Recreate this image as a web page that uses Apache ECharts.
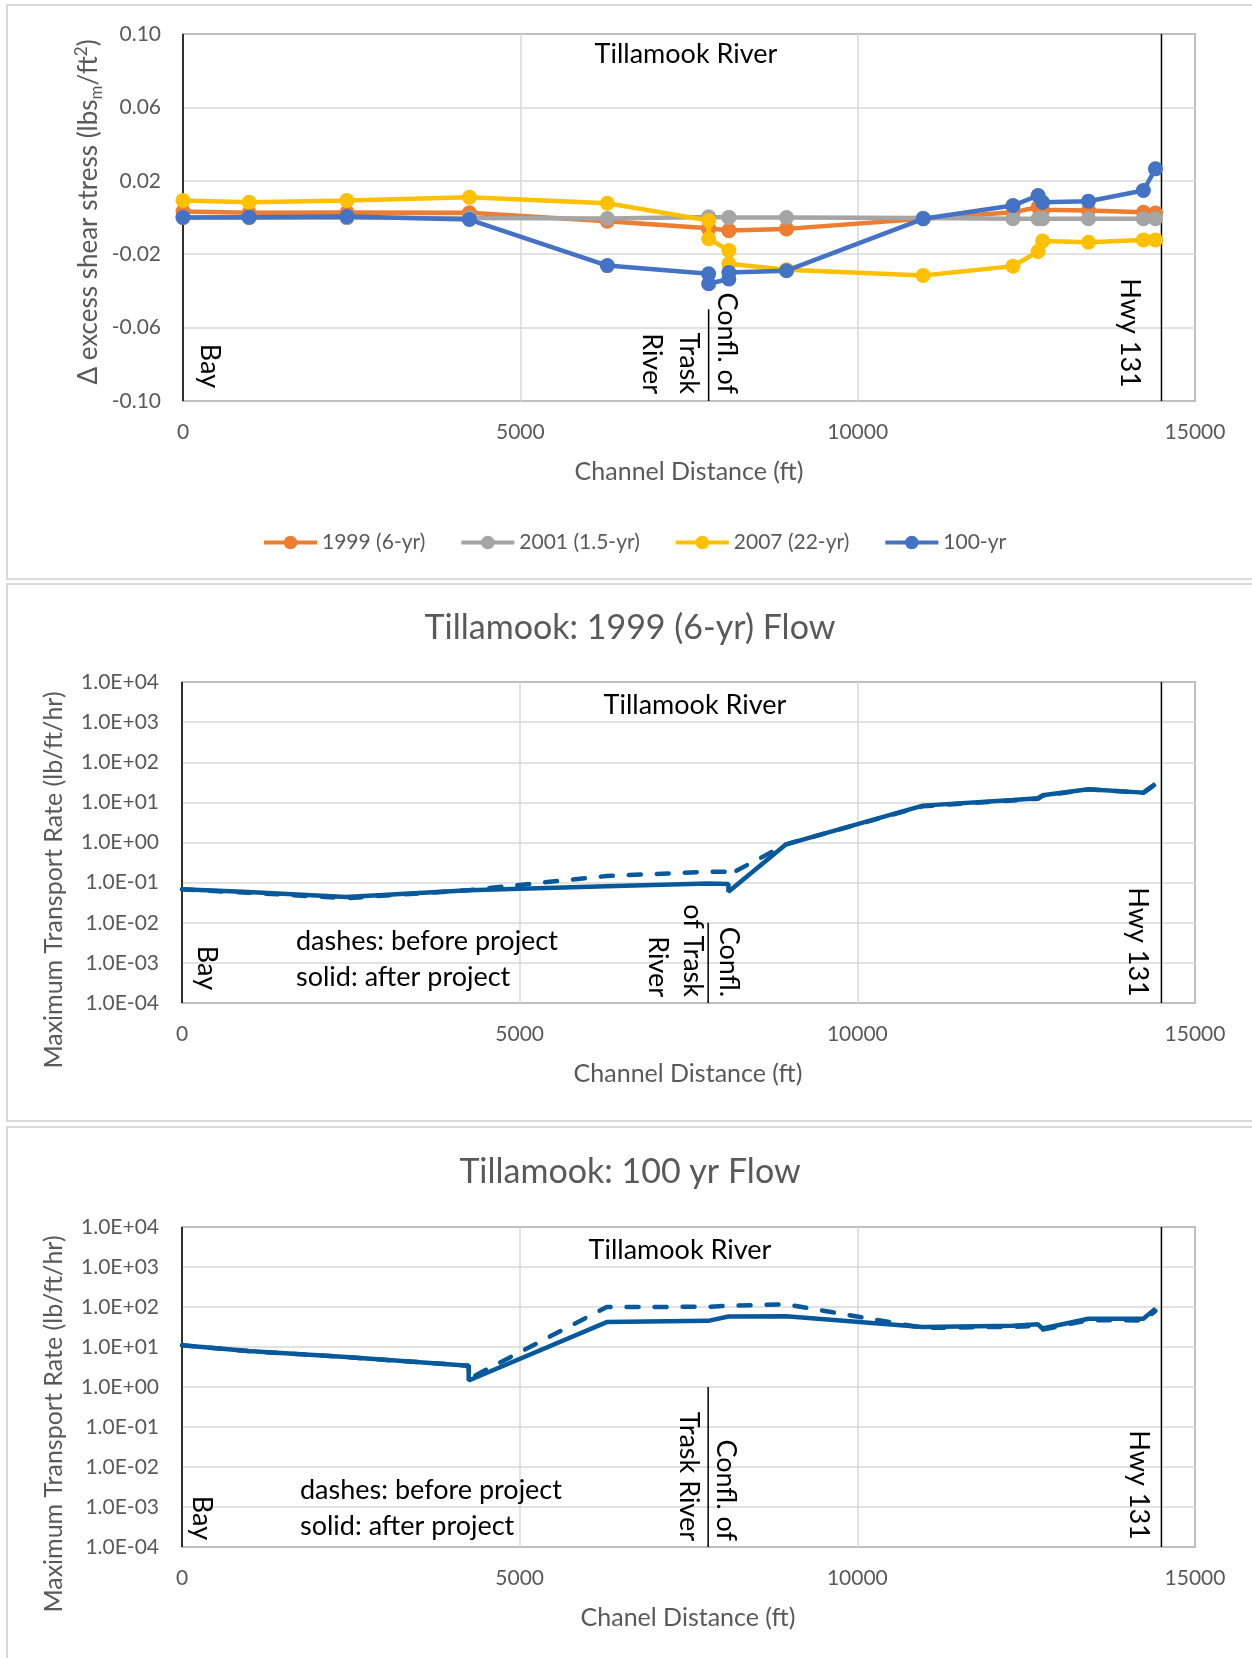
<!DOCTYPE html>
<html>
<head>
<meta charset="utf-8">
<script src="https://cdn.jsdelivr.net/npm/echarts@6/dist/echarts.min.js"></script>
<style>
html,body{margin:0;padding:0;background:#ffffff;}
#chart{width:1252px;height:1658px;}
</style>
</head>
<body>
<div id="chart"></div>
<script>
// ---------------- DATA ----------------
// Chart 1: change in excess shear stress (lbs_m/ft^2) along channel distance (ft)
const shearStations = [0, 980, 2430, 4245, 6289, 7791, 7791, 8091, 8091, 8945, 10971, 12302, 12674, 12741, 13421, 14235, 14414];
const shear1999 = [0.0033, 0.0026, 0.0027, 0.0026, -0.0020, -0.0058, -0.0062, -0.0071, -0.0071, -0.0062, -0.0007, 0.0029, 0.0056, 0.0042, 0.0038, 0.0029, 0.0024];
const shear2001 = [0.0000, -0.0001, -0.0002, -0.0003, -0.0005, 0.0003, 0.0003, 0.0000, 0.0000, 0.0000, -0.0003, -0.0007, -0.0007, -0.0007, -0.0007, -0.0007, -0.0007];
const shear2007 = [0.0093, 0.0083, 0.0092, 0.0110, 0.0078, -0.0016, -0.0116, -0.0180, -0.0252, -0.0285, -0.0316, -0.0265, -0.0185, -0.0128, -0.0135, -0.0122, -0.0122];
const shear100yr = [0.0000, 0.0002, 0.0005, -0.0011, -0.0262, -0.0307, -0.0361, -0.0335, -0.0300, -0.0290, -0.0007, 0.0065, 0.0120, 0.0083, 0.0089, 0.0147, 0.0265];
const shearSeriesNames = ['1999 (6-yr)', '2001 (1.5-yr)', '2007 (22-yr)', '100-yr'];

// Chart 2: Tillamook 1999 (6-yr) flow, maximum transport rate (lb/ft/hr)
const flow1999Stations = [0, 980, 2430, 4245, 6289, 7791, 8091, 8091, 8945, 10971, 12302, 12674, 12741, 13421, 14235, 14414];
const flow1999Before = [0.068, 0.056, 0.041, 0.065, 0.146, 0.187, 0.187, 0.155, 0.90, 8.0, 11.2, 12.3, 14.5, 21.0, 17.3, 28.0];
const flow1999After = [0.068, 0.058, 0.044, 0.065, 0.081, 0.095, 0.092, 0.059, 0.90, 8.3, 11.5, 12.7, 15.0, 21.3, 17.5, 28.8];

// Chart 3: Tillamook 100 yr flow, maximum transport rate (lb/ft/hr)
const flow100Stations = [0, 980, 2430, 4245, 4245, 6289, 7791, 8091, 8945, 10971, 12302, 12674, 12741, 13421, 14235, 14414];
const flow100Before = [11, 7.9, 5.6, 3.4, 1.6, 100, 101, 107, 117, 30, 32, 34, 27, 47, 46, 80];
const flow100After = [11, 7.9, 5.6, 3.4, 1.45, 42, 45, 58, 59, 31.6, 34, 37, 29, 51, 51, 91];

// Axis ticks
const distanceTicks = [0, 5000, 10000, 15000];
const shearTicks = [-0.10, -0.06, -0.02, 0.02, 0.06, 0.10];
const rateTicks = [1e-4, 1e-3, 1e-2, 1e-1, 1e0, 1e1, 1e2, 1e3, 1e4];

// Landmarks along the channel (ft) and the extent of the confluence marker on each chart
const bayX = 0;
const confluenceX = 7791;
const hwyX = 14503;
const confluenceTopShear = -0.05;
const confluenceTop1999 = 1e-2;
const confluenceTop100 = 1e0;

// ---------------- STYLE ----------------
const FONT = 'Lato';
const GRAY_TEXT = '#595959';
const GRID_LINE = '#D9D9D9';
const shearColors = ['#ED7D31', '#A5A5A5', '#FFC000', '#4472C4'];
const flowColor = '#07599B';

const chart = echarts.init(document.getElementById('chart'), null, {renderer: 'canvas'});

const dMin = distanceTicks[0], dMax = distanceTicks[distanceTicks.length - 1];
const dInt = distanceTicks[1] - distanceTicks[0];
const sMin = shearTicks[0], sMax = shearTicks[shearTicks.length - 1];
const sInt = Math.round((shearTicks[1] - shearTicks[0]) * 1e6) / 1e6;
const rMin = rateTicks[0], rMax = rateTicks[rateTicks.length - 1];

function xAxisOpt(gridIndex) {
  return {
    type: 'value', gridIndex, min: dMin, max: dMax, interval: dInt,
    axisLine: {show: false}, axisTick: {show: false},
    splitLine: {show: true, showMinLine: false, showMaxLine: false, lineStyle: {color: GRID_LINE, width: 1.5}},
    axisLabel: {fontFamily: FONT, fontSize: 21, color: GRAY_TEXT, margin: 21, formatter: v => String(Math.round(v))}
  };
}
function logFmt(v) {
  const e = Math.round(Math.log10(v));
  return '1.0E' + (e < 0 ? '-' : '+') + String(Math.abs(e)).padStart(2, '0');
}
function logYAxis(gridIndex) {
  return {
    type: 'log', logBase: 10, gridIndex, min: rMin, max: rMax, splitNumber: 8,
    axisLine: {show: false}, axisTick: {show: false}, minorTick: {show: false},
    splitLine: {show: true, showMinLine: false, showMaxLine: false, lineStyle: {color: GRID_LINE, width: 1.5}},
    axisLabel: {fontFamily: FONT, fontSize: 21, color: GRAY_TEXT, margin: 23, formatter: logFmt}
  };
}
function vline(xi, x, lo, hi) {
  return {
    type: 'line', xAxisIndex: xi, yAxisIndex: xi, data: [[x, lo], [x, hi]],
    symbol: 'none', silent: true, clip: false, z: 2,
    lineStyle: {color: '#000000', width: 1.5}
  };
}
function flowSeries(xi, stations, vals, dashed) {
  return {
    type: 'line', xAxisIndex: xi, yAxisIndex: xi,
    data: stations.map((x, j) => [x, vals[j]]),
    symbol: 'none', clip: false, z: dashed ? 3 : 4,
    lineStyle: dashed ? {color: flowColor, width: 4.5, type: [12, 16], cap: 'round'} : {color: flowColor, width: 4.5}
  };
}
function txt(text, x, y, size, color, align, opts) {
  opts = opts || {};
  return {
    type: 'text', x, y, silent: true, z: 50,
    rotation: opts.rotation || 0,
    style: {
      text, font: size + 'px ' + FONT, fill: color,
      align: align, verticalAlign: 'middle',
      textAlign: align, textVerticalAlign: 'middle'
    }
  };
}
const CW = -Math.PI / 2, CCW = Math.PI / 2;

const shearArrays = [shear1999, shear2001, shear2007, shear100yr];
const series = [];
// marker lines chart 1
series.push(vline(0, bayX, sMin, sMax));
series.push(vline(0, hwyX, sMin, sMax));
series.push(vline(0, confluenceX, sMin, confluenceTopShear));
shearArrays.forEach((vals, i) => {
  series.push({
    type: 'line', name: shearSeriesNames[i], xAxisIndex: 0, yAxisIndex: 0,
    data: shearStations.map((x, j) => [x, vals[j]]),
    symbol: 'circle', symbolSize: 15, showSymbol: true, clip: false, z: 5 + i,
    lineStyle: {color: shearColors[i], width: 4.5},
    itemStyle: {color: shearColors[i]}
  });
});
// chart 2
series.push(vline(1, bayX, rMin, rMax));
series.push(vline(1, hwyX, rMin, rMax));
series.push(vline(1, confluenceX, rMin, confluenceTop1999));
series.push(flowSeries(1, flow1999Stations, flow1999Before, true));
series.push(flowSeries(1, flow1999Stations, flow1999After, false));
// chart 3
series.push(vline(2, bayX, rMin, rMax));
series.push(vline(2, hwyX, rMin, rMax));
series.push(vline(2, confluenceX, rMin, confluenceTop100));
series.push(flowSeries(2, flow100Stations, flow100Before, true));
series.push(flowSeries(2, flow100Stations, flow100After, false));

const graphics = [
  // panel borders
  {type: 'rect', shape: {x: 7, y: 5, width: 1260, height: 574}, style: {fill: 'none', stroke: '#D9D9D9', lineWidth: 2}, silent: true, z: 0},
  {type: 'rect', shape: {x: 7, y: 584, width: 1260, height: 537}, style: {fill: 'none', stroke: '#D9D9D9', lineWidth: 2}, silent: true, z: 0},
  {type: 'rect', shape: {x: 7, y: 1127, width: 1260, height: 560}, style: {fill: 'none', stroke: '#D9D9D9', lineWidth: 2}, silent: true, z: 0},

  // ---- chart 1 texts
  txt('Tillamook River', 686, 54, 27, '#000', 'center'),
  txt('Bay', 210, 366, 27, '#000', 'center', {rotation: CW}),
  txt('Confl. of', 727, 394, 27, '#000', 'right', {rotation: CW}),
  txt('Trask', 689, 394, 27, '#000', 'right', {rotation: CW}),
  txt('River', 652, 394, 27, '#000', 'right', {rotation: CW}),
  txt('Hwy 131', 1130, 333, 27, '#000', 'center', {rotation: CW}),
  txt('Channel Distance (ft)', 689, 472, 25, GRAY_TEXT, 'center'),
  {
    type: 'text', x: 89, y: 212, rotation: CCW, silent: true, z: 50,
    style: {
      text: '{n|\u0394 excess shear stress (lbs}{sub|m}{n|/ft}{sup|2}{n|)}',
      align: 'center', verticalAlign: 'middle', textAlign: 'center', textVerticalAlign: 'middle',
      rich: {
        n: {font: '26px ' + FONT, fill: GRAY_TEXT, lineHeight: 32, verticalAlign: 'middle'},
        sub: {font: '17px ' + FONT, fill: GRAY_TEXT, lineHeight: 17, verticalAlign: 'bottom'},
        sup: {font: '17px ' + FONT, fill: GRAY_TEXT, lineHeight: 17, verticalAlign: 'top'}
      }
    }
  },

  // ---- chart 2 texts
  txt('Tillamook: 1999 (6-yr) Flow', 630, 628, 34, GRAY_TEXT, 'center'),
  txt('Tillamook River', 695, 705, 27, '#000', 'center'),
  txt('dashes: before project', 296, 941, 27, '#000', 'left'),
  txt('solid: after project', 296, 977, 27, '#000', 'left'),
  txt('Bay', 207, 968, 27, '#000', 'center', {rotation: CW}),
  txt('Confl.', 729, 997, 27, '#000', 'right', {rotation: CW}),
  txt('of Trask', 693, 997, 27, '#000', 'right', {rotation: CW}),
  txt('River', 658, 997, 27, '#000', 'right', {rotation: CW}),
  txt('Hwy 131', 1138, 942, 27, '#000', 'center', {rotation: CW}),
  txt('Channel Distance (ft)', 688, 1074, 25, GRAY_TEXT, 'center'),
  txt('Maximum Transport Rate (lb/ft/hr)', 54, 880, 25, GRAY_TEXT, 'center', {rotation: CCW}),

  // ---- chart 3 texts
  txt('Tillamook: 100 yr Flow', 630, 1172, 34, GRAY_TEXT, 'center'),
  txt('Tillamook River', 680, 1250, 27, '#000', 'center'),
  txt('dashes: before project', 300, 1490, 27, '#000', 'left'),
  txt('solid: after project', 300, 1526, 27, '#000', 'left'),
  txt('Bay', 202, 1518, 27, '#000', 'center', {rotation: CW}),
  txt('Confl. of', 726, 1541, 27, '#000', 'right', {rotation: CW}),
  txt('Trask River', 689, 1541, 27, '#000', 'right', {rotation: CW}),
  txt('Hwy 131', 1139, 1485, 27, '#000', 'center', {rotation: CW}),
  txt('Chanel Distance (ft)', 688, 1618, 25, GRAY_TEXT, 'center'),
  txt('Maximum Transport Rate (lb/ft/hr)', 54, 1424, 25, GRAY_TEXT, 'center', {rotation: CCW})
];

const option = {
  animation: false,
  backgroundColor: '#ffffff',
  grid: [
    {left: 183, top: 34, width: 1012, height: 367, show: true, borderColor: '#BFBFBF', borderWidth: 2},
    {left: 182, top: 682, width: 1013, height: 321, show: true, borderColor: '#BFBFBF', borderWidth: 2},
    {left: 182, top: 1227, width: 1013, height: 320, show: true, borderColor: '#BFBFBF', borderWidth: 2}
  ],
  xAxis: [xAxisOpt(0), xAxisOpt(1), xAxisOpt(2)],
  yAxis: [
    {
      type: 'value', gridIndex: 0, min: sMin, max: sMax, interval: sInt,
      axisLine: {show: false}, axisTick: {show: false},
      splitLine: {show: true, showMinLine: false, showMaxLine: false, lineStyle: {color: GRID_LINE, width: 1.5}},
      axisLabel: {fontFamily: FONT, fontSize: 21, color: GRAY_TEXT, margin: 22, formatter: v => v.toFixed(2)}
    },
    logYAxis(1),
    logYAxis(2)
  ],
  legend: {
    data: shearSeriesNames,
    left: 262, top: 532, padding: 0,
    itemWidth: 53, itemHeight: 17, itemGap: 34,
    textStyle: {fontFamily: FONT, fontSize: 21, color: GRAY_TEXT},
    lineStyle: {width: 4},
    selectedMode: false
  },
  series: series,
  graphic: {elements: graphics}
};
chart.setOption(option);
</script>
</body>
</html>
